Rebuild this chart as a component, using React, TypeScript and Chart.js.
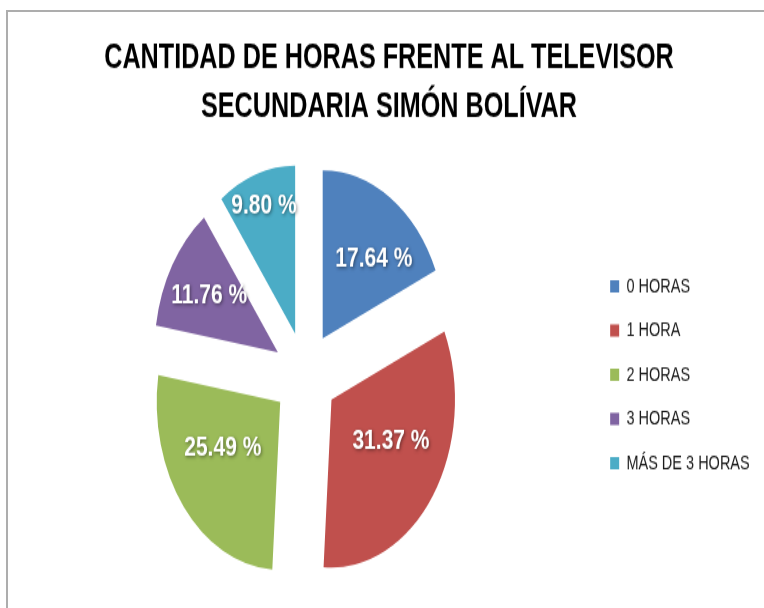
import React, { useEffect, useRef } from "react";
import { Chart, ArcElement, registerables } from "chart.js";

// ---- data ----
const titleLines = ["CANTIDAD DE HORAS FRENTE AL TELEVISOR", "SECUNDARIA SIMÓN BOLÍVAR"];
const categories = ["0 HORAS", "1 HORA", "2 HORAS", "3 HORAS", "MÁS DE 3 HORAS"];
const percentages = [17.64, 31.37, 25.49, 11.76, 9.8];
const sliceColors = ["#4F81BD", "#C0504D", "#9BBB59", "#8064A2", "#4BACC6"];

// ---- geometry / style ----
const CANVAS_W = 764;
const CANVAS_H = 447;
const STRETCH_Y = 608 / CANVAS_H;
const EXPLODE = 32;
const FONT = "'Liberation Sans', Arial, sans-serif";

class ExplodedArc extends ArcElement {
  static id = "explodedArc";
  draw(ctx: CanvasRenderingContext2D) {
    const self: any = this;
    const mid = (self.startAngle + self.endAngle) / 2;
    ctx.save();
    ctx.translate(Math.cos(mid) * EXPLODE, Math.sin(mid) * EXPLODE);
    super.draw(ctx);
    ctx.restore();
  }
}

Chart.register(...registerables, ExplodedArc);
(Chart.defaults as any).datasets.pie.dataElementType = "explodedArc";

const sliceLabels = {
  id: "sliceLabels",
  afterDatasetsDraw(chart: any) {
    const ctx: CanvasRenderingContext2D = chart.ctx;
    const meta = chart.getDatasetMeta(0);
    const values = chart.data.datasets[0].data as number[];
    const fontSize = 21;
    ctx.save();
    ctx.font = `bold ${fontSize}px ${FONT}`;
    ctx.textAlign = "center";
    ctx.textBaseline = "middle";
    ctx.fillStyle = "#ffffff";
    ctx.shadowColor = "rgba(0,0,0,0.45)";
    ctx.shadowBlur = 3;
    ctx.shadowOffsetX = 1;
    ctx.shadowOffsetY = 1;
    meta.data.forEach((arc: any, i: number) => {
      const p = arc.getProps(["x", "y", "startAngle", "endAngle", "outerRadius"], true);
      const mid = (p.startAngle + p.endAngle) / 2;
      const half = (p.endAngle - p.startAngle) / 2;
      const text = `${values[i].toFixed(2)} %`;
      const w = ctx.measureText(text).width;
      const h = fontSize * 0.72;
      const centroid = (2 * p.outerRadius * Math.sin(half)) / (3 * half);
      let dist = half > Math.PI / 4 ? 0.54 * p.outerRadius : centroid;
      let angle = mid;
      if (half < Math.PI / 2) {
        const ext = Math.abs(w * Math.sin(mid)) + Math.abs(h * Math.cos(mid));
        const need = ext / 2 / Math.sin(half);
        dist = Math.max(dist, need);
      }
      if (half > 0.5) {
        // wide slices: nudge the label toward the horizontal (best fit)
        const nudge = (8 * Math.PI) / 180;
        const c = Math.cos(mid);
        const s = Math.sin(mid);
        angle = mid + (c >= 0 ? (s > 0 ? -nudge : nudge) : s > 0 ? nudge : -nudge);
      }
      dist = Math.min(dist, p.outerRadius * 0.8);
      const ex = p.x + Math.cos(mid) * EXPLODE;
      const ey = p.y + Math.sin(mid) * EXPLODE;
      ctx.fillText(text, ex + Math.cos(angle) * dist, ey + Math.sin(angle) * dist);
    });
    ctx.restore();
  },
};

export default function App() {
  const canvasRef = useRef<HTMLCanvasElement | null>(null);

  useEffect(() => {
    if (!canvasRef.current) return;
    const chart = new Chart(canvasRef.current, {
      type: "pie",
      data: {
        labels: categories,
        datasets: [
          {
            data: percentages,
            backgroundColor: sliceColors,
            borderWidth: 0,
          },
        ],
      },
      options: {
        responsive: false,
        devicePixelRatio: 1,
        animation: false,
        events: [],
        radius: 123.5,
        layout: { padding: { left: 18.3, right: 4.3, top: 0, bottom: 0 } },
        plugins: {
          title: {
            display: true,
            text: titleLines,
            color: "#000000",
            font: { family: FONT, size: 25.2, weight: "bold", lineHeight: 36.4 / 25.2 },
            padding: { top: 24.4, bottom: 6.8 },
          },
          legend: {
            display: true,
            position: "right",
            fullSize: false,
            labels: {
              boxWidth: 9,
              boxHeight: 9,
              padding: 18,
              color: "#1a1a1a",
              font: { family: FONT, size: 14.5 },
            },
          },
          tooltip: { enabled: false },
        },
      } as any,
      plugins: [sliceLabels],
    });
    return () => chart.destroy();
  }, []);

  return (
    <div
      style={{
        position: "absolute",
        left: 0,
        top: 0,
        width: 764,
        height: 608,
        overflow: "hidden",
        background: "#ffffff",
      }}
    >
      <div
        style={{
          position: "absolute",
          left: 6,
          top: 10,
          right: -10,
          bottom: -10,
          borderTop: "2px solid #adadad",
          borderLeft: "2px solid #adadad",
        }}
      />
      <div
        style={{
          position: "absolute",
          left: 0,
          top: 0,
          width: CANVAS_W,
          height: CANVAS_H,
          transform: `scaleY(${STRETCH_Y})`,
          transformOrigin: "top left",
        }}
      >
        <canvas
          ref={canvasRef}
          width={CANVAS_W}
          height={CANVAS_H}
          style={{ display: "block", width: CANVAS_W, height: CANVAS_H }}
        />
      </div>
    </div>
  );
}
